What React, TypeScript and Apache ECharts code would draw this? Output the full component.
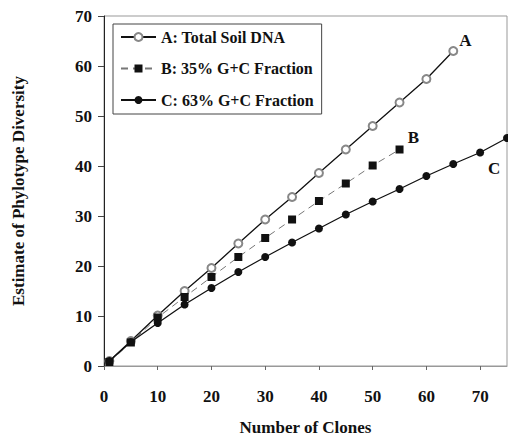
import React, { useEffect, useRef } from "react";
import * as echarts from "echarts";

const xA = [1, 5, 10, 15, 20, 25, 30, 35, 40, 45, 50, 55, 60, 65];
const valuesA = [1, 5, 10.1, 15, 19.6, 24.5, 29.3, 33.8, 38.6, 43.3, 48, 52.7, 57.4, 63];
const xB = [1, 5, 10, 15, 20, 25, 30, 35, 40, 45, 50, 55];
const valuesB = [0.8, 4.7, 9.7, 13.8, 17.8, 21.8, 25.6, 29.3, 33.0, 36.5, 40.1, 43.3];
const xC = [1, 5, 10, 15, 20, 25, 30, 35, 40, 45, 50, 55, 60, 65, 70, 75];
const valuesC = [1, 4.8, 8.6, 12.3, 15.6, 18.8, 21.8, 24.7, 27.5, 30.3, 32.9, 35.4, 38, 40.4, 42.7, 45.6];
const seriesNames = ["A: Total Soil DNA", "B: 35% G+C Fraction", "C: 63% G+C Fraction"];
const curveTags = ["A", "B", "C"];
const xTicks = [0, 10, 20, 30, 40, 50, 60, 70];

const FONT = "Liberation Serif";

function pairs(xs: number[], ys: number[], tag: string, tagIndex: number, offset: number[]) {
  return xs.map((x, i) => {
    const item: any = { value: [x, ys[i]] };
    if (i === tagIndex) {
      item.label = {
        show: true,
        formatter: tag,
        position: "inside",
        offset,
        fontFamily: FONT,
        fontWeight: "bold",
        fontSize: 17,
        color: "#111",
      };
    }
    return item;
  });
}

export default function App() {
  const ref = useRef<HTMLDivElement>(null);
  useEffect(() => {
    if (!ref.current) return;
    const chart = echarts.init(ref.current, null, { renderer: "svg" });
    chart.setOption({
      animation: false,
      backgroundColor: "#fff",
      textStyle: { fontFamily: FONT },
      grid: {
        left: 104,
        right: 1,
        top: 16,
        bottom: 72,
        show: true,
        borderColor: "#999",
        borderWidth: 1,
        containLabel: false,
        outerBoundsMode: "none",
      },
      legend: {
        orient: "vertical",
        left: 113,
        top: 24,
        padding: [5, 8, 6, 7],
        itemWidth: 35,
        itemHeight: 10,
        itemGap: 15.5,
        borderColor: "#444",
        borderWidth: 1,
        backgroundColor: "#fff",
        textStyle: { fontFamily: FONT, fontWeight: "bold", fontSize: 16, color: "#111" },
        data: seriesNames,
      },
      xAxis: {
        type: "value",
        min: 0,
        max: 75,
        interval: 10,
        splitLine: { show: false },
        axisLine: { show: true, lineStyle: { color: "#999", width: 1 } },
        axisTick: { show: true, length: 4, lineStyle: { color: "#666" } },
        axisLabel: {
          showMaxLabel: false,
          margin: 22,
          fontFamily: FONT,
          fontWeight: "bold",
          fontSize: 17,
          color: "#111",
          formatter: (v: number) => (xTicks.includes(v) ? String(v) : ""),
        },
        name: "Number of Clones",
        nameLocation: "middle",
        nameGap: 53,
        nameTextStyle: { fontFamily: FONT, fontWeight: "bold", fontSize: 17, color: "#111" },
      },
      yAxis: {
        type: "value",
        min: 0,
        max: 70,
        interval: 10,
        splitLine: { show: false },
        axisLine: { show: true, lineStyle: { color: "#222", width: 1 } },
        axisTick: { show: true, length: 6, lineStyle: { color: "#444" } },
        axisLabel: {
          margin: 12,
          fontFamily: FONT,
          fontWeight: "bold",
          fontSize: 17,
          color: "#111",
        },
        name: "Estimate of Phylotype Diversity",
        nameLocation: "middle",
        nameGap: 77,
        nameTextStyle: { fontFamily: FONT, fontWeight: "bold", fontSize: 17, color: "#111" },
      },
      series: [
        {
          name: seriesNames[0],
          type: "line",
          data: pairs(xA, valuesA, curveTags[0], xA.length - 1, [12, -11]),
          symbol: "emptyCircle",
          symbolSize: 8,
          itemStyle: { color: "#888", borderColor: "#888", borderWidth: 1 },
          lineStyle: { color: "#111", width: 1.3 },
          z: 3,
        },
        {
          name: seriesNames[1],
          type: "line",
          data: pairs(xB, valuesB, curveTags[1], xB.length - 1, [14, -12]),
          symbol: "rect",
          symbolSize: 8,
          itemStyle: { color: "#111" },
          lineStyle: { color: "#777", width: 1, type: [7, 5] },
          z: 4,
        },
        {
          name: seriesNames[2],
          type: "line",
          data: pairs(xC, valuesC, curveTags[2], xC.length - 2, [14, 16]),
          symbol: "circle",
          symbolSize: 8,
          itemStyle: { color: "#111" },
          lineStyle: { color: "#111", width: 1.3 },
          z: 5,
        },
      ],
    });
    return () => chart.dispose();
  }, []);
  return (
    <div
      ref={ref}
      style={{ position: "fixed", left: 0, top: 0, width: 508, height: 438 }}
    />
  );
}
